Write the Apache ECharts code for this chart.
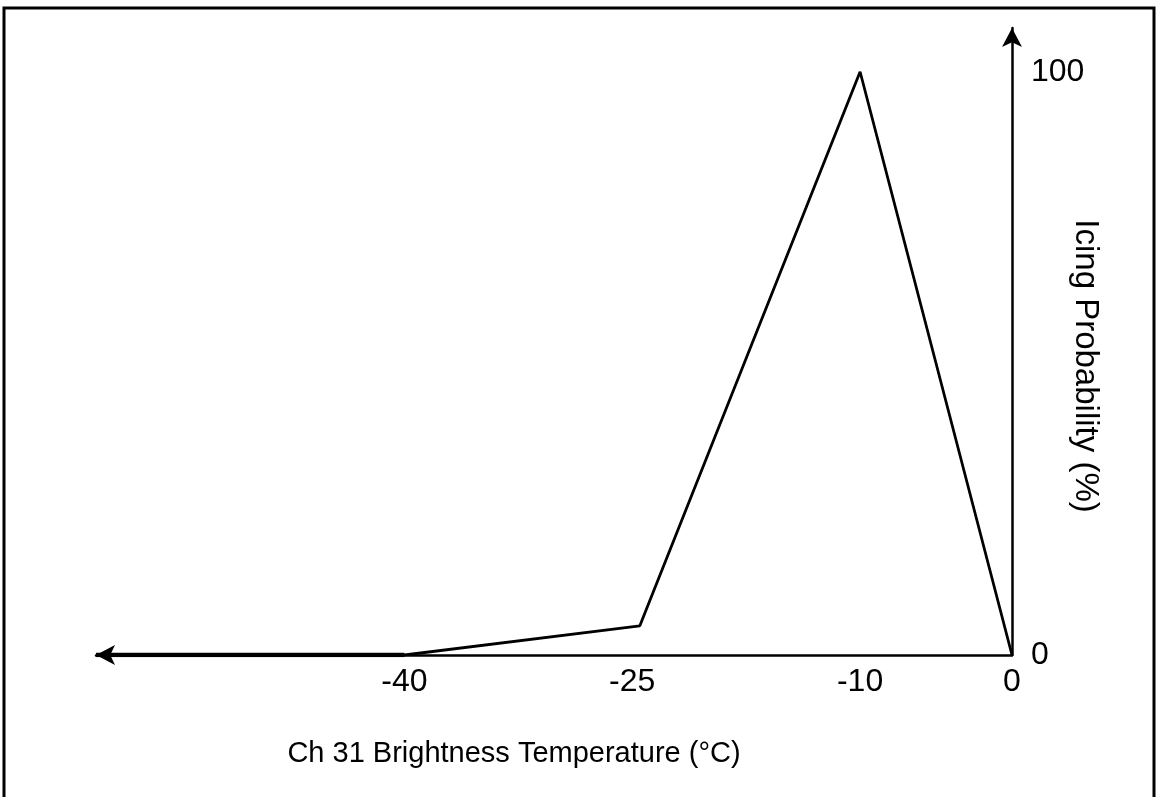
<!DOCTYPE html>
<html>
<head>
<meta charset="utf-8">
<script src="https://cdn.jsdelivr.net/npm/echarts@6/dist/echarts.min.js"></script>
<style>
  html,body{margin:0;padding:0;background:#fff;}
  #chart{width:1156px;height:797px;}
</style>
</head>
<body>
<div id="chart"></div>
<script>
  // 亮温 / 结冰概率
  var temps=[-60.3,-40,-24.5,-10,0];
  var probs=[0,0,5,100,0];
  var xTicks=[-40,-25,-10,0];
  var yTicks=[0,100];

  var points=temps.map(function(t,i){
    return [t,probs[i]];
  });

  var chart=echarts.init(document.getElementById("chart"));
  chart.setOption({
    animation:false,
    textStyle:{fontFamily:"Liberation Sans"},
    grid:{
      left:96,
      right:144,
      top:28,
      bottom:142
    },
    graphic:[
      {
        type:"rect",
        shape:{x:4,y:8,width:1150,height:800},
        style:{fill:"none",stroke:"#000",lineWidth:3},
        silent:true
      },
      {
        // 纵轴标题
        type:"text",
        x:1085,
        y:366,
        rotation:-Math.PI/2,
        style:{
          text:"Icing Probability (%)",
          fill:"#000",
          fontSize:33,
          fontFamily:"Liberation Sans",
          align:"center",
          verticalAlign:"middle"
        },
        silent:true
      }
    ],
    xAxis:{
      type:"value",
      min:-60.3,
      max:0,
      name:"Ch 31 Brightness Temperature (°C)",
      nameLocation:"middle",
      nameGap:84,
      nameTextStyle:{color:"#000",fontSize:29,padding:[0,80,0,0]},
      axisLine:{
        show:true,
        onZero:false,
        symbol:["arrow","none"],
        symbolSize:[15,19],
        lineStyle:{color:"#000",width:2.5}
      },
      axisTick:{show:false},
      splitLine:{show:false},
      axisLabel:{
        customValues:xTicks,
        color:"#000",
        fontSize:32,
        margin:11
      }
    },
    yAxis:{
      type:"value",
      position:"right",
      min:0,
      max:107.5,
      axisLine:{
        show:true,
        onZero:false,
        symbol:["none","arrow"],
        symbolSize:[15,19],
        lineStyle:{color:"#000",width:2.5}
      },
      axisTick:{show:false},
      splitLine:{show:false},
      axisLabel:{
        customValues:yTicks,
        color:"#000",
        fontSize:32,
        margin:19
      }
    },
    series:[
      {
        type:"line",
        data:points,
        symbol:"none",
        lineStyle:{color:"#000",width:2.8},
        z:1
      },
      {
        // 左侧粗线段
        type:"line",
        data:points.slice(0,2),
        symbol:"none",
        lineStyle:{color:"#000",width:4.5},
        z:1
      }
    ]
  });
</script>
</body>
</html>
